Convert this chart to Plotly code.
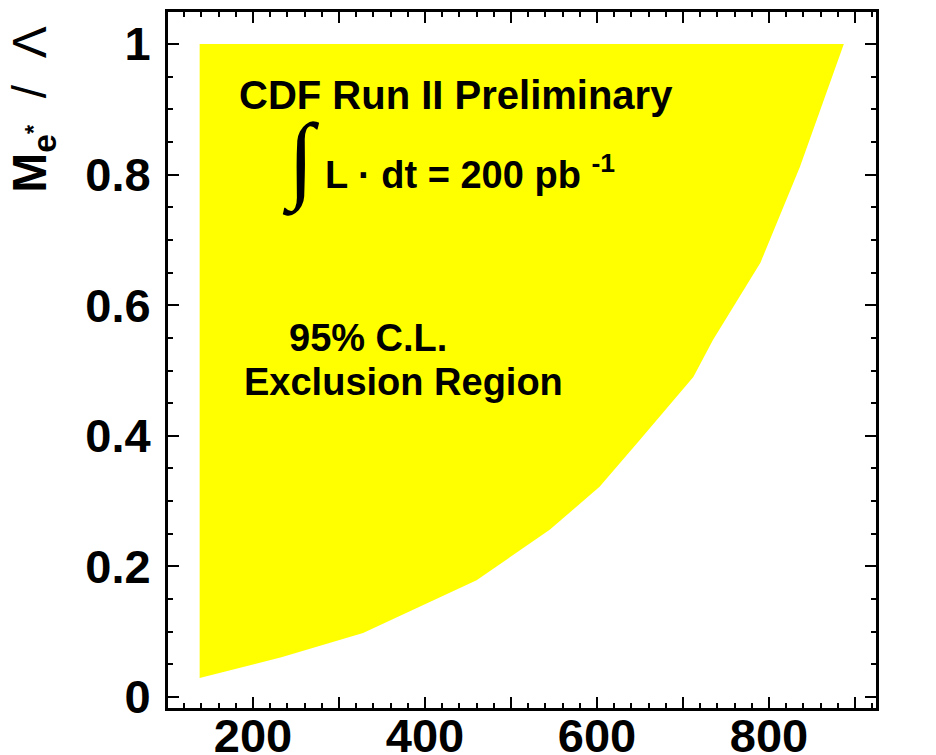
import plotly.graph_objects as go

# Excited-electron mass (GeV/c^2) along the exclusion boundary
mass_gev = [138, 233, 328, 417, 460, 545, 603, 650, 712, 735, 758, 790, 836, 887]
# 95% C.L. limit on M_e*/Lambda along that boundary
coupling_limit = [0.029, 0.061, 0.098, 0.153, 0.179, 0.256, 0.322, 0.394, 0.490,
                  0.547, 0.597, 0.665, 0.812, 1.0]

x_range = [101.2, 924.4]
y_range = [-0.0168, 1.049]

FONT = "Liberation Sans"

# closed exclusion polygon: boundary curve, then back along the top at the same limit
poly_x = mass_gev + [mass_gev[0]]
poly_y = coupling_limit + [coupling_limit[-1]]

fig = go.Figure()
fig.add_trace(go.Scatter(
    x=poly_x, y=poly_y, mode="lines", fill="toself",
    fillcolor="#ffff00", line=dict(width=0, color="#ffff00"),
    hoverinfo="skip", showlegend=False,
))

axis_common = dict(
    showline=True, linecolor="black", linewidth=3, mirror="allticks",
    ticks="inside", tickcolor="black", tickwidth=2, ticklen=11,
    showgrid=False, zeroline=False, automargin=False,
    tickfont=dict(family=FONT, size=47, color="black", weight="bold"),
)

fig.update_xaxes(
    range=x_range, tickmode="linear", tick0=0, dtick=100, ticklabelstep=2,
    minor=dict(ticks="inside", dtick=20, tick0=0, ticklen=5, tickwidth=2, tickcolor="black"),
    ticklabelstandoff=-15,
    **axis_common,
)
fig.update_yaxes(
    range=y_range, tickmode="linear", tick0=0, dtick=0.2,
    minor=dict(ticks="inside", dtick=0.05, tick0=0, ticklen=5, tickwidth=2, tickcolor="black"),
    ticklabelstandoff=5,
    **axis_common,
)

bold = dict(family=FONT, size=38, color="black", weight="bold")
annotations = [
    dict(x=181.4, y=0.922, text="CDF Run II Preliminary", xanchor="left", yanchor="middle",
         font=dict(family=FONT, size=40, color="black", weight="bold")),
    dict(x=239.5, y=0.5505, text="95% C.L.", xanchor="left", yanchor="middle", font=bold),
    dict(x=187.2, y=0.483, text="Exclusion Region", xanchor="left", yanchor="middle", font=bold),
    dict(x=281.4, y=0.804, text="L \u00b7 dt = 200 pb <sup>-1</sup>", xanchor="left",
         yanchor="middle", font=bold),
]
for a in annotations:
    fig.add_annotation(xref="x", yref="y", showarrow=False, **a)

# integral sign
fig.add_annotation(xref="x", yref="y", x=256.0, y=0.822, text="\u222b", showarrow=False,
                   xanchor="center", yanchor="middle",
                   font=dict(family="Liberation Serif", size=96, color="black"))

# y-axis title
fig.add_annotation(xref="paper", yref="paper", x=-0.1907, y=0.861,
                   text="<b>M<sub>e<sup>*</sup></sub></b>  /  \u039b",
                   textangle=-90, showarrow=False, xanchor="center", yanchor="middle",
                   font=dict(family=FONT, size=48, color="black"))

fig.update_layout(
    width=936, height=755,
    margin=dict(l=168, r=60, t=12, b=47),
    paper_bgcolor="white", plot_bgcolor="white",
    showlegend=False,
)

fig.write_html("out.html")
